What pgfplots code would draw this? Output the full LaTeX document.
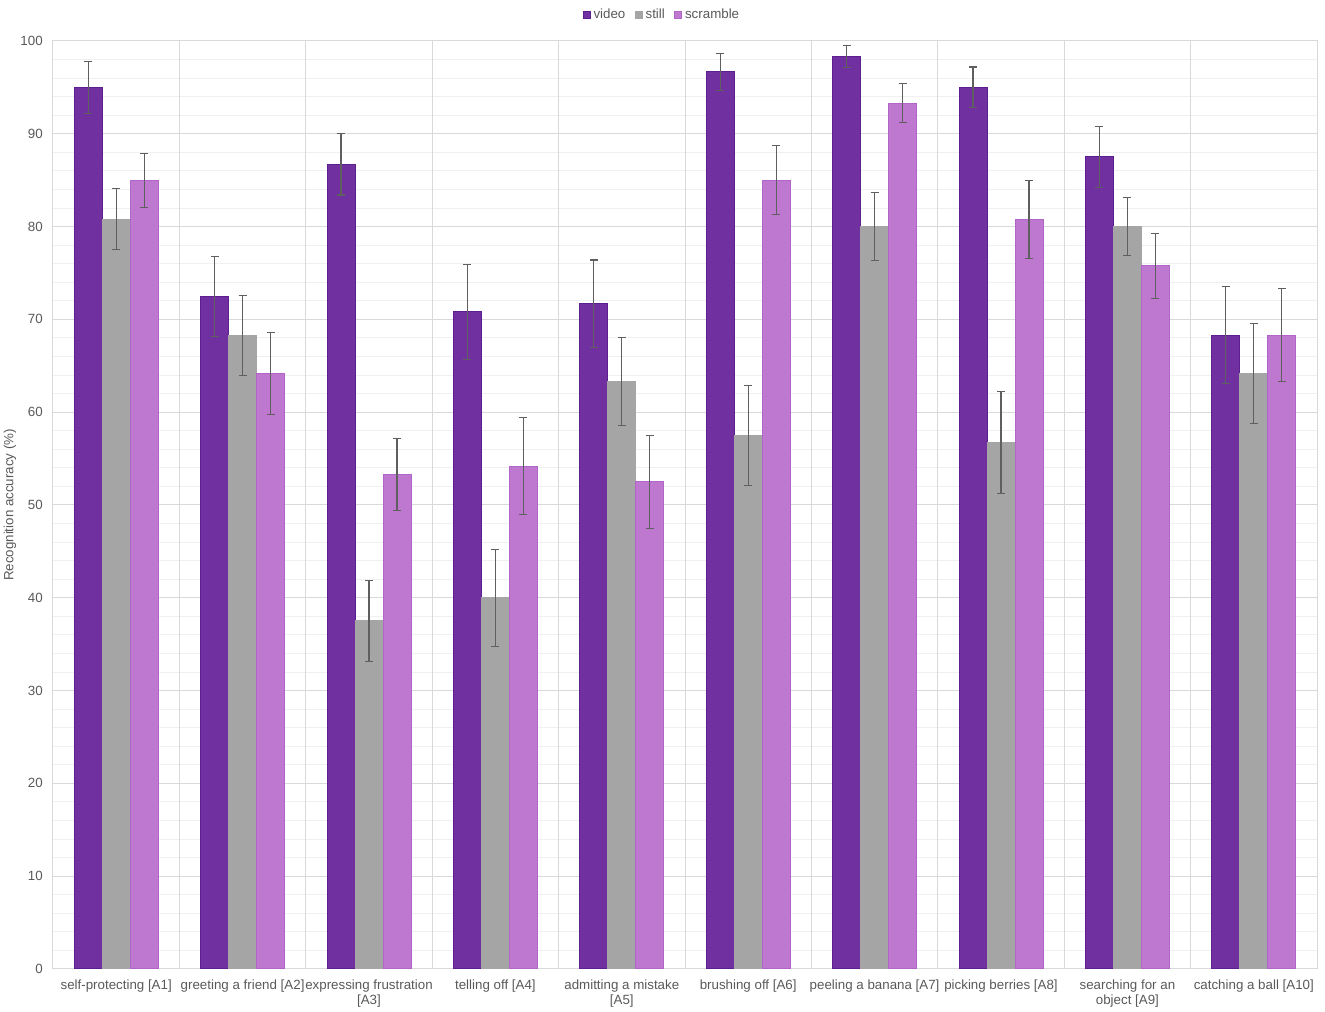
\documentclass[border=0pt]{standalone}
\usepackage{pgfplots}
\pgfplotsset{compat=1.18}
\usepackage{fontspec}
\setmainfont{Liberation Sans}

\definecolor{videoc}{RGB}{112,48,160}
\definecolor{videoe}{RGB}{94,30,146}
\definecolor{stillc}{RGB}{165,165,165}
\definecolor{scramc}{RGB}{190,120,208}
\definecolor{scrame}{RGB}{178,100,200}
\definecolor{gridc}{RGB}{217,217,217}
\definecolor{mgridc}{RGB}{240,240,240}
\definecolor{errc}{RGB}{95,95,95}
\definecolor{textc}{RGB}{89,89,89}

\newcommand{\lbl}{\fontsize{10}{11}\selectfont}

\begin{document}
\begin{tikzpicture}
\begin{axis}[
  width=948pt, height=696pt, scale only axis,
  ybar=0pt, bar width=21pt,
  xmin=-0.5, xmax=9.5, ymin=0, ymax=100,
  xtick={0,...,9},
  xticklabels={
    self-protecting {[A1]},
    greeting a friend {[A2]},
    expressing frustration\\{[A3]},
    telling off {[A4]},
    admitting a mistake\\{[A5]},
    brushing off {[A6]},
    peeling a banana {[A7]},
    picking berries {[A8]},
    searching for an\\object {[A9]},
    catching a ball {[A10]}},
  ytick={0,10,...,100}, minor y tick num=4,
  /pgf/number format/assume math mode=true,
  ymajorgrids, yminorgrids,
  major grid style={gridc, line width=0.75pt},
  minor grid style={mgridc, line width=0.75pt},
  extra x ticks={0.5,1.5,...,8.5}, extra x tick labels={},
  extra x tick style={grid=major, major grid style={gridc, line width=0.75pt}},
  major tick length=0pt, minor tick length=0pt,
  axis line style={gridc, line width=0.75pt},
  error bars/y dir=both, error bars/y explicit,
  error bars/error bar style={errc, line width=0.8pt},
  error bars/error mark options={rotate=90, errc, mark size=3pt, line width=0.8pt},
  ticklabel style={font=\lbl, text=textc},
  yticklabel style={inner sep=0pt, xshift=-7.5pt},
  xticklabel style={align=center, inner sep=0pt, yshift=-8pt},
  ylabel={Recognition accuracy (\%)},
  ylabel style={at={(axis description cs:0,0.5)}, anchor=center, yshift=32.25pt, font=\lbl, text=textc},
  legend style={at={(0.482,1)}, anchor=center, yshift=19.5pt, draw=none, fill=none,
    legend columns=-1, font=\lbl, text=textc,
    /tikz/every even column/.append style={column sep=5pt}},
  legend image code/.code={\fill[#1] (0pt,-2.7pt) rectangle (5.4pt,2.7pt);},
]
\addplot[fill=videoc, draw=videoe, line width=0.75pt] coordinates {
  (0,95) +- (0,2.8) (1,72.5) +- (0,4.3) (2,86.7) +- (0,3.3) (3,70.8) +- (0,5.1)
  (4,71.7) +- (0,4.7) (5,96.7) +- (0,2.0) (6,98.3) +- (0,1.2) (7,95) +- (0,2.2)
  (8,87.5) +- (0,3.3) (9,68.3) +- (0,5.2)};
\addplot[fill=stillc, draw=stillc, line width=0.75pt] coordinates {
  (0,80.8) +- (0,3.3) (1,68.3) +- (0,4.3) (2,37.5) +- (0,4.4) (3,40) +- (0,5.2)
  (4,63.3) +- (0,4.7) (5,57.5) +- (0,5.4) (6,80) +- (0,3.7) (7,56.7) +- (0,5.5)
  (8,80) +- (0,3.1) (9,64.2) +- (0,5.4)};
\addplot[fill=scramc, draw=scrame, line width=0.75pt] coordinates {
  (0,85) +- (0,2.9) (1,64.2) +- (0,4.4) (2,53.3) +- (0,3.9) (3,54.2) +- (0,5.2)
  (4,52.5) +- (0,5.0) (5,85) +- (0,3.7) (6,93.3) +- (0,2.1) (7,80.8) +- (0,4.2)
  (8,75.8) +- (0,3.5) (9,68.3) +- (0,5.0)};
\legend{video,still,scramble}
\end{axis}
\pgfresetboundingbox
\path[use as bounding box] ([shift={(-39.75pt,-32.25pt)}]current axis.south west)
  rectangle ([shift={(6pt,30.75pt)}]current axis.north east);
\end{tikzpicture}
\end{document}
